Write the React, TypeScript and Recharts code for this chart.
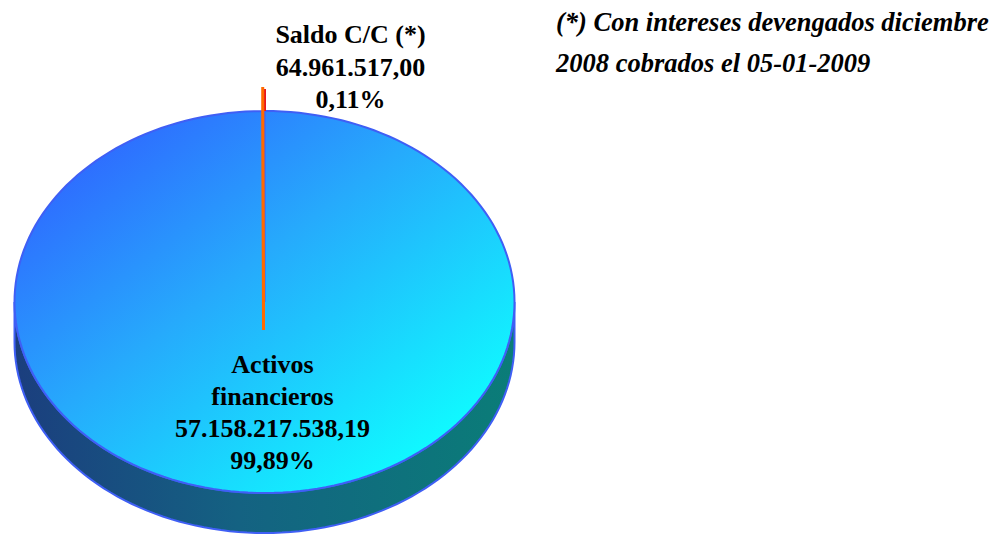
import { PieChart, Pie, Cell } from 'recharts';

const NAMES = ['Activos financieros', 'Saldo C/C (*)'];
const NAME_LINES = [['Activos', 'financieros'], ['Saldo C/C (*)']];
const VALUES = [57158217538.19, 64961517.0];
const COLORS = ['url(#topGrad)', '#ff6a00'];
const NOTE_LINES = ['(*) Con intereses devengados diciembre', '2008 cobrados el 05-01-2009'];

const data = NAMES.map((name, i) => ({ name, value: VALUES[i] }));

const TILT = 0.764;
const DEPTH = 40;
const LIFT = [0, 24];
const FONT = 'Liberation Serif';

const fmt = (v: number, dec: number) => {
  const [i, d] = v.toFixed(dec).split('.');
  return i.replace(/\B(?=(\d{3})+(?!\d))/g, '.') + (d ? ',' + d : '');
};

const rad = (d: number) => (d * Math.PI) / 180;

function arcPoints(cx: number, cy: number, rx: number, ry: number, s: number, e: number, dy = 0) {
  const pts: string[] = [];
  const n = Math.max(2, Math.ceil(Math.abs(e - s) / 2));
  for (let k = 0; k <= n; k++) {
    const a = s + ((e - s) * k) / n;
    pts.push(`${(cx + rx * Math.cos(rad(a))).toFixed(2)},${(cy - ry * Math.sin(rad(a)) + dy).toFixed(2)}`);
  }
  return pts;
}

function Slice3D(props: any) {
  const { cx, cy, outerRadius, startAngle, endAngle, fill, index } = props;
  const rx = outerRadius;
  const ry = outerRadius * TILT;
  const c = cy - (LIFT[index] ?? 0);
  const a0 = Math.min(startAngle, endAngle);
  const a1 = Math.max(startAngle, endAngle);
  const full = a1 - a0 >= 359.9;

  // visible outer wall: lower half of the ellipse
  const walls: JSX.Element[] = [];
  for (let m = -2; m <= 2; m++) {
    const s = Math.max(a0, -180 + 360 * m);
    const e = Math.min(a1, 360 * m);
    if (e - s > 0.01) {
      const top = arcPoints(cx, c, rx, ry, s, e);
      const bot = arcPoints(cx, c, rx, ry, e, s, DEPTH);
      walls.push(
        <polygon key={`w${m}`} points={[...top, ...bot].join(' ')} fill="url(#sideGrad)" stroke="#3f5ff5" strokeWidth={2} />
      );
    }
  }

  if (full) {
    return (
      <g>
        {walls}
        <ellipse cx={cx} cy={c} rx={rx} ry={ry} fill={fill} stroke="#3f5ff5" strokeWidth={2} />
      </g>
    );
  }

  if (index === 1) {
    const rimX = cx + rx * Math.cos(rad(a1));
    const rimY = c - ry * Math.sin(rad(a1));
    const wall = [`${cx - 1},${c}`, `${rimX},${rimY}`, `${rimX},${rimY + DEPTH}`, `${cx - 1},${c + DEPTH + 12}`].join(' ');
    const faceTop = cy - ry;
    return (
      <g>
        {walls}
        <rect x={cx - 1} y={rimY + 2} width={2.5} height={faceTop - rimY - 2} fill="#e8141c" />
        <polygon points={wall} fill={fill} stroke={fill} strokeWidth={3} />
      </g>
    );
  }

  const face = [`${cx},${c}`, ...arcPoints(cx, c, rx, ry, a0, a1)].join(' ');
  return (
    <g>
      {walls}
      <polygon points={face} fill={fill} stroke="#3f5ff5" strokeWidth={2} />
    </g>
  );
}

const total = VALUES.reduce((a, b) => a + b, 0);

function renderLabel(props: any) {
  const { cx, cy, outerRadius, index } = props;
  const ry = outerRadius * TILT;
  const lines = [...NAME_LINES[index], fmt(VALUES[index], 2), fmt((VALUES[index] / total) * 100, 2) + '%'];
  const x = index === 0 ? cx + 8 : cx + 86;
  const y0 = index === 0 ? cy + 71 : cy - ry - 68;
  const step = index === 0 ? 32 : 32.5;
  return (
    <text
      key={`lab${index}`}
      x={x}
      y={y0}
      textAnchor="middle"
      style={{ fontFamily: FONT, fontWeight: 'bold', fontSize: 26 }}
      fill="#000"
    >
      {lines.map((l, i) => (
        <tspan key={i} x={x} y={y0 + i * step}>
          {l}
        </tspan>
      ))}
    </text>
  );
}

export default function App() {
  return (
    <div style={{ position: 'absolute', left: 0, top: 0, width: 996, height: 536 }}>
      <svg width={0} height={0} style={{ position: 'absolute' }}>
        <defs>
          <linearGradient id="topGrad" x1="0.1" y1="0.1" x2="0.85" y2="0.85">
            <stop offset="0" stopColor="#2f66ff" />
            <stop offset="0.45" stopColor="#26aafc" />
            <stop offset="1" stopColor="#10f8ff" />
          </linearGradient>
          <linearGradient id="sideGrad" x1="0" y1="0" x2="1" y2="0">
            <stop offset="0" stopColor="#1b3e7e" />
            <stop offset="0.45" stopColor="#146282" />
            <stop offset="1" stopColor="#0a7d78" />
          </linearGradient>
        </defs>
      </svg>
      <PieChart width={996} height={536} margin={{ top: 0, right: 0, bottom: 0, left: 0 }}>
        <Pie
          data={data}
          dataKey="value"
          nameKey="name"
          cx={264.5}
          cy={302}
          outerRadius={250}
          startAngle={90}
          endAngle={-270}
          shape={Slice3D}
          label={renderLabel}
          labelLine={false}
          isAnimationActive={false}
        >
          {data.map((d, i) => (
            <Cell key={d.name} fill={COLORS[i]} />
          ))}
        </Pie>
      </PieChart>
      <svg width={996} height={536} style={{ position: 'absolute', left: 0, top: 0, pointerEvents: 'none' }}>
        {NOTE_LINES.map((l, i) => (
          <text
            key={i}
            x={556}
            y={31 + i * 41}
            style={{ fontFamily: FONT, fontWeight: 'bold', fontStyle: 'italic', fontSize: 26.5 }}
            fill="#000"
          >
            {l}
          </text>
        ))}
      </svg>
    </div>
  );
}
